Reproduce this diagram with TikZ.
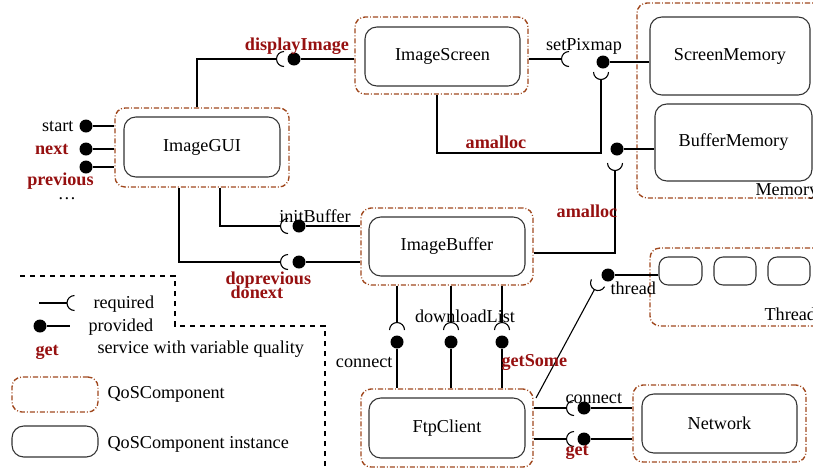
\documentclass[tikz,border=0pt]{standalone}
\usepackage{fontspec}
\setmainfont{Liberation Serif}
\definecolor{qosbrown}{RGB}{160,72,30}
\definecolor{vqred}{RGB}{150,16,16}
\newcommand\pxu{0.55pt}
\begin{document}
\begin{tikzpicture}
[x=\pxu,y=-\pxu,line width=0.6pt,
 qos/.style={draw=qosbrown,line width=0.75pt,dash pattern=on 2.8pt off 1.1pt on 0.5pt off 1.1pt,rounded corners=5.5pt,inner sep=0pt},
 inst/.style={draw=black!80,rounded corners=6.5pt,inner sep=0pt},
 sz/.style 2 args={minimum width=#1*\pxu,minimum height=#2*\pxu},
 ball/.style={circle,fill,inner sep=0pt,minimum size=13*\pxu},
 lab/.style={inner sep=0pt,anchor=base},
 vq/.style={lab,text=vqred,font=\bfseries},
 sock/.pic={\draw (7.5,7.5) arc[start angle=90,end angle=270,radius=7.5];}]
\useasboundingbox (0,0) rectangle (813,469);
\clip (0,0) rectangle (813,469);

\node[qos,sz={173}{77}] (scrQ) at (441.5,55.5) {};
\node[inst,sz={155}{59}] (scr) at (442.5,56.5) {ImageScreen};
\node[qos,sz={174}{79}] (guiQ) at (202,147.5) {};
\node[inst,sz={156}{60}] (gui) at (202,147) {ImageGUI};
\node[qos,sz={172}{77}] (bufQ) at (447,246.5) {};
\node[inst,sz={156}{59}] (buf) at (447,246.5) {ImageBuffer};
\node[qos,sz={172}{78}] (ftpQ) at (447,428) {};
\node[inst,sz={156}{60}] (ftp) at (447,428) {FtpClient};
\node[qos,sz={173}{77}] (netQ) at (719.5,423.5) {};
\node[inst,sz={155}{59}] (net) at (719.5,423.5) {Network};
\node[qos,sz={193}{195}] (memQ) at (733.5,100.5) {};
\node[inst,sz={160}{78}] (smem) at (730,56) {ScreenMemory};
\node[inst,sz={157}{77}] (bmem) at (733.5,142.5) {BufferMemory};
\node[lab,anchor=base west] (memT) at (755,195) {Memory};
\node[qos,sz={180}{78}] (thrQ) at (740,287) {};
\node[inst,rounded corners=5pt,sz={43}{28}] (t1) at (680.5,271) {};
\node[inst,rounded corners=5pt,sz={42}{28}] (t2) at (735,271) {};
\node[inst,rounded corners=5pt,sz={42}{28}] (t3) at (789,271) {};
\node[lab,anchor=base west] (thrT) at (764,320) {Threads};

\node[ball] (bDisp) at (294,59) {};
\node[ball] (bScr) at (603,62) {};
\node[ball] (bBmem) at (617,149) {};
\node[ball] (bInit) at (299,226) {};
\node[ball] (bDo) at (299,262) {};
\node[ball] (bStart) at (86,126) {};
\node[ball] (bNext) at (86,149) {};
\node[ball] (bPrev) at (86,167) {};
\node[ball] (bConn) at (397,342) {};
\node[ball] (bList) at (451,342) {};
\node[ball] (bSome) at (502,342) {};
\node[ball] (bThr) at (608,275) {};
\node[ball] (bNetC) at (584,408) {};
\node[ball] (bNetG) at (584,439) {};
\node[ball] (bLeg) at (40,326) {};

\coordinate (sDisp) at (276.5,59);
\coordinate (sSet) at (561.5,59);
\coordinate (sScr) at (601,79.5);
\coordinate (sBmem) at (615,170.5);
\coordinate (sInit) at (280.5,226);
\coordinate (sDo) at (280.5,262);
\coordinate (sConn) at (397,322.5);
\coordinate (sList) at (451,322.5);
\coordinate (sSome) at (502,322.5);
\coordinate (sThr) at (594.4,289.6);
\coordinate (sNetC) at (566.5,408);
\coordinate (sNetG) at (566.5,439);
\coordinate (sLeg) at (67,303);
\foreach \s in {sDisp,sSet,sInit,sDo,sNetC,sNetG,sLeg} \pic at (\s) {sock};
\foreach \s in {sScr,sBmem} \pic[rotate=90] at (\s) {sock};
\foreach \s in {sConn,sList,sSome} \pic[rotate=-90] at (\s) {sock};
\pic[rotate=61] at (sThr) {sock};

\coordinate (kDisp) at (197,59);
\coordinate (kAm) at (437,153);
\coordinate (kBm) at (615,253);
\coordinate (kInit) at (220,226);
\coordinate (kDo) at (179,262);
\coordinate (kThr) at (536,398);
\coordinate (kReq) at (39,303);
\coordinate (kProv) at (70,326);

\draw (kDisp |- guiQ.north) -- (kDisp) -- (sDisp);
\draw (bDisp) -- (scrQ.west |- bDisp);
\draw (scrQ.east |- sSet) -- (sSet);
\draw (bScr) -- (smem.west |- bScr);
\draw (sScr) |- (kAm) -- (kAm |- scrQ.south);
\draw (bBmem) -- (bmem.west |- bBmem);
\draw (sBmem) -- (kBm) -- (bufQ.east |- kBm);
\draw (kInit |- guiQ.south) -- (kInit) -- (sInit);
\draw (bInit) -- (bufQ.west |- bInit);
\draw (kDo |- guiQ.south) -- (kDo) -- (sDo);
\draw (bDo) -- (bufQ.west |- bDo);
\foreach \b in {bStart,bNext,bPrev} \draw (\b) -- (guiQ.west |- \b);
\foreach \b/\s in {bConn/sConn,bList/sList,bSome/sSome} {
  \draw (bufQ.south -| \s) -- (\s);
  \draw (\b) -- (\b |- ftpQ.north);
}
\draw (kThr) -- (sThr);
\draw (bThr) -- (t1.west |- bThr);
\foreach \b/\s in {bNetC/sNetC,bNetG/sNetG} {
  \draw (ftpQ.east |- \s) -- (\s);
  \draw (\b) -- (netQ.west |- \b);
}
\draw (kReq) -- (sLeg);
\draw (bLeg) -- (kProv);

\node[vq] (lDisp) at (297,50) {displayImage};
\node[lab] (lSet) at (584,50) {setPixmap};
\node[vq] (lAm1) at (496,148) {amalloc};
\node[vq] (lAm2) at (587,217) {amalloc};
\node[lab] (lInit) at (315,222) {initBuffer};
\node[vq,anchor=base west] (lDoP) at (225,284) {doprevious};
\node[vq,anchor=base west] (lDoN) at (230,298) {donext};
\node[lab,anchor=base east] (lStart) at (74,131) {start};
\node[vq,anchor=base east] (lNext) at (69,154) {next};
\node[vq] (lPrev) at (60.5,185) {previous};
\node[lab] (lDots) at (67,199) {\dots};
\node[lab] (lList) at (465,322) {downloadList};
\node[lab,anchor=base east] (lConn) at (393,367) {connect};
\node[vq,anchor=base west] (lSome) at (501,366) {getSome};
\node[lab,anchor=base west] (lThr) at (610,294) {thread};
\node[lab,anchor=base west] (lNetC) at (565,403) {connect};
\node[vq,anchor=base west] (lNetG) at (565,455) {get};

\draw[dash pattern=on 3pt off 2.5pt] (20,276) -| (175,326) -| (325,475);
\node[lab,anchor=base west] (lReq) at (93,308) {required};
\node[lab,anchor=base west] (lProv) at (88,331) {provided};
\node[vq,anchor=base west] (lGet) at (35,355) {get};
\node[lab,anchor=base west] (lServ) at (97,353) {service with variable quality};
\node[qos,sz={86}{35}] (legQ) at (55,394.5) {};
\node[lab,anchor=base west] (lQ) at (107,398) {QoSComponent};
\node[inst,sz={86}{31}] (legI) at (55,441.5) {};
\node[lab,anchor=base west] (lI) at (107,448) {QoSComponent instance};
\end{tikzpicture}
\end{document}
